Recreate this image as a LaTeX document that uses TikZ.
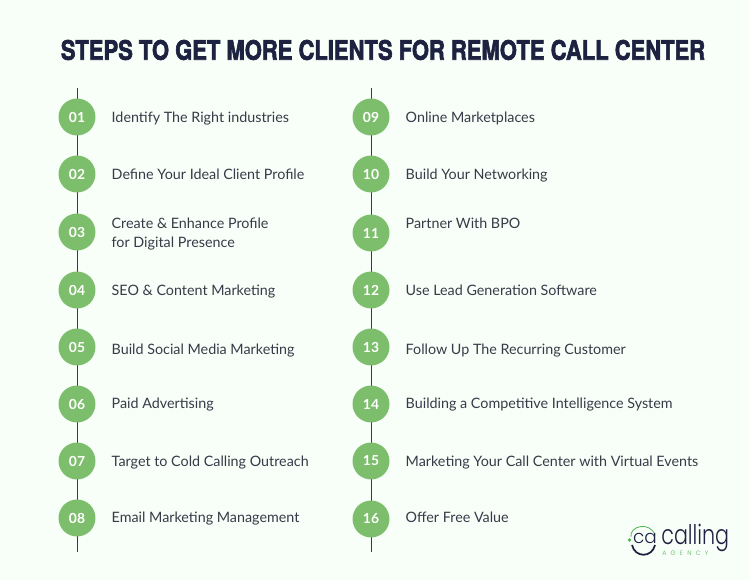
\documentclass[tikz,border=0pt]{standalone}
\usepackage{fontspec}
\setmainfont{Lato}
\newfontfamily\titlefont[FakeBold=2.6]{TeX Gyre Heros Bold}
\newfontfamily\logofont[UprightFont=* Light]{Poppins}
\usetikzlibrary{positioning}

\definecolor{bgmint}{HTML}{F8FFF9}
\definecolor{stepgreen}{HTML}{7DBE6C}
\definecolor{logogreen}{HTML}{4FB84F}
\definecolor{inkdark}{HTML}{343C47}
\definecolor{titlenavy}{HTML}{1C2240}

\begin{document}
\begin{tikzpicture}[x=0.02cm,y=-0.02cm]
    \tikzset{
        stepdot/.style={circle,fill=stepgreen,minimum size=0.74cm,inner sep=0pt,text=white,font=\fontsize{7.9}{9}\selectfont\bfseries},
        steptext/.style={right=0.31cm of #1,inner sep=0pt,align=left,text=inkdark,font=\fontsize{8.15}{10.8}\selectfont},
        spine/.style={draw=inkdark,line width=0.55pt}
    }
    \fill [bgmint] (0,0) rectangle (750,580);

    \node (title) [text=titlenavy] at (383,50) {\scalebox{0.92}[1.12]{\titlefont\fontsize{13.6}{16}\selectfont STEPS TO GET MORE CLIENTS FOR REMOTE CALL CENTER}};

    % spines
    \coordinate (topa) at (77,88);
    \coordinate (bota) at (77,552);
    \coordinate (topb) at (371,88);
    \coordinate (botb) at (371,552);
    \draw [spine] (topa) -- (bota);
    \draw [spine] (topb) -- (botb);

    % left column
    \foreach \name/\y/\dy/\num/\txt in {
        a1/117/2/01/{Identify The Right industries},
        a2/174/0.5/02/{Define Your Ideal Client Profile},
        a3/232/2.5/03/{Create \& Enhance Profile\\for Digital Presence},
        a4/290/1.5/04/{SEO \& Content Marketing},
        a5/347/4/05/{Build Social Media Marketing},
        a6/404/1/06/{Paid Advertising},
        a7/461/2/07/{Target to Cold Calling Outreach},
        a8/518/1/08/{Email Marketing Management}}
    {
        \node (\name) [stepdot] at (77,\y) {\num};
        \node [steptext=\name,yshift=-\dy*0.02cm] {\txt};
    }

    % right column
    \foreach \name/\y/\dy/\num/\txt in {
        b1/117/1/09/{Online Marketplaces},
        b2/174/2/10/{Build Your Networking},
        b3/233/-10/11/{Partner With BPO},
        b4/290/0/12/{Use Lead Generation Software},
        b5/347/4/13/{Follow Up The Recurring Customer},
        b6/404/1/14/{Building a Competitive Intelligence System},
        b7/461/2/15/{Marketing Your Call Center with Virtual Events},
        b8/519/-2/16/{Offer Free Value}}
    {
        \node (\name) [stepdot] at (371,\y) {\num};
        \node [steptext=\name,yshift=-\dy*0.02cm] {\txt};
    }

    % logo
    \draw [logogreen,line width=0.45pt] (631,537) .. controls (629,526) and (650,521) .. (655,535);
    \fill [logogreen] (629.5,540) circle (1.8);
    \draw [titlenavy,line width=1pt] (632,545) .. controls (635,558) and (652,558) .. (655,545);
    \node (logoca) [text=titlenavy] at (645,538) {\logofont\fontsize{10.5}{12}\selectfont ca};
    \node (logoname) [anchor=west,inner sep=0pt,text=titlenavy] at (661,538) {\scalebox{0.84}[1.1]{\logofont\fontsize{14}{16}\selectfont calling}};
    \node (logotag) [anchor=west,inner sep=0pt,text=logogreen] at (662,553.5) {\logofont\fontsize{3.6}{4}\selectfont A\,\,\,\,G\,\,\,\,E\,\,\,\,N\,\,\,\,C\,\,\,\,Y};
\end{tikzpicture}
\end{document}
